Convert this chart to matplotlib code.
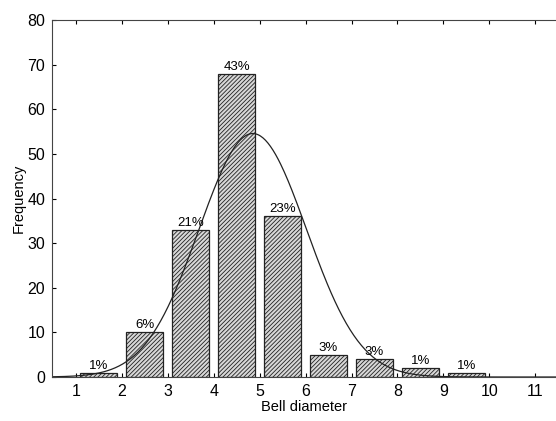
import numpy as np
import matplotlib.pyplot as plt

plt.rcParams['font.family'] = ['Liberation Sans', 'DejaVu Sans']
plt.rcParams['hatch.linewidth'] = 0.6
plt.rcParams['hatch.color'] = '#555555'

# Histogram data
bin_left = [1, 2, 3, 4, 5, 6, 7, 8, 9]
counts = [1, 10, 33, 68, 36, 5, 4, 2, 1]
percent_labels = ["1%", "6%", "21%", "43%", "23%", "3%", "3%", "1%", "1%"]

# fitted normal curve parameters
fit_mean = 4.85
fit_sd = 1.17

fig = plt.figure(figsize=(5.56, 4.21), dpi=100)
ax = fig.add_axes([0.0935, 0.1045, 0.9065, 0.848])

centers = np.array(bin_left) + 0.5
bars = ax.bar(centers, counts, width=0.8, facecolor='#d8d8d8', edgecolor='#222222',
              linewidth=0.9, hatch='////////')
for c, v, t in zip(centers, counts, percent_labels):
    ax.text(c, v + 0.2, t, ha='center', va='bottom', fontsize=9.5)

n = sum(counts)
xs = np.linspace(0.48, 11.45, 400)
ys = n * 1.0 / (fit_sd * np.sqrt(2 * np.pi)) * np.exp(-0.5 * ((xs - fit_mean) / fit_sd) ** 2)
ax.plot(xs, ys, color='#222222', linewidth=0.9)

ax.set_xlim(0.48, 11.45)
ax.set_ylim(0, 80)
ax.set_xticks(range(1, 12))
ax.set_yticks(range(0, 81, 10))
ax.tick_params(axis='both', labelsize=11.5, direction='in', length=3, top=True, right=False, pad=5)
ax.spines['right'].set_visible(False)
for s in ['left', 'top', 'bottom']:
    ax.spines[s].set_color('#444444')
ax.set_xlabel("Bell diameter", fontsize=10.5, labelpad=1)
ax.set_ylabel("Frequency", fontsize=10.5, labelpad=1)

fig.savefig("out.png", dpi=100)
